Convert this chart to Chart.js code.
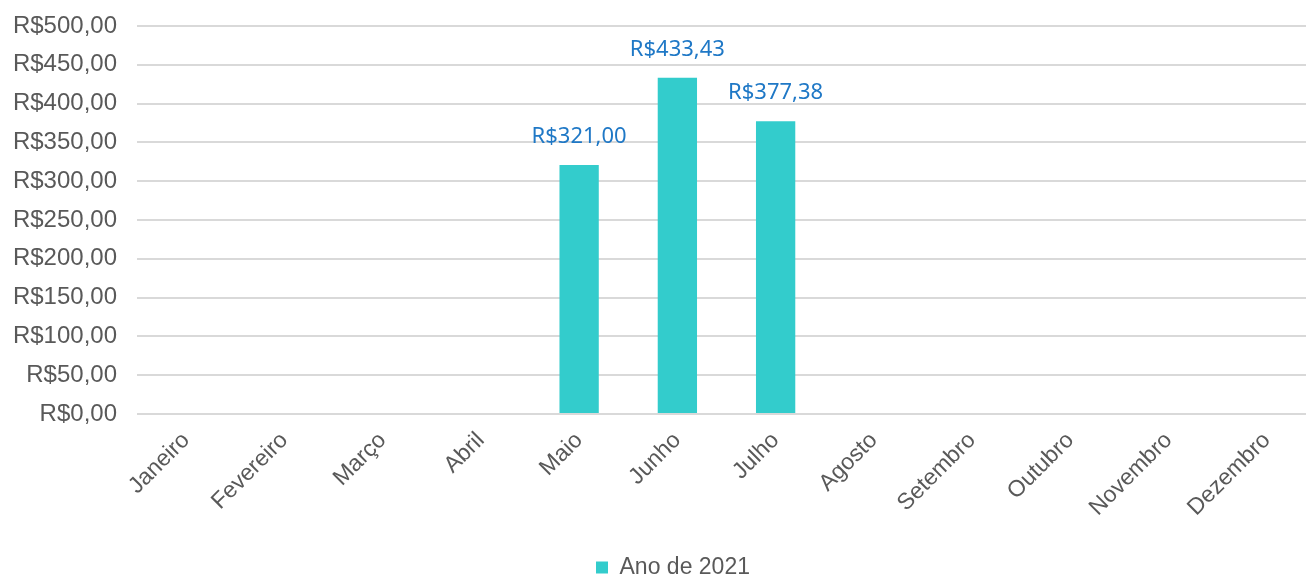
<!DOCTYPE html>
<html>
<head>
<meta charset="utf-8">
<script src="https://cdn.jsdelivr.net/npm/chart.js@4/dist/chart.umd.min.js"></script>
<style>
  html, body { margin: 0; padding: 0; background: #fff; overflow: hidden; }
  #wrap { width: 1316px; height: 577px; }
</style>
</head>
<body>
<div id="wrap"><canvas id="myChart" width="1316" height="577"></canvas></div>
<script>
var meses = ["Janeiro", "Fevereiro", "Março", "Abril", "Maio", "Junho", "Julho", "Agosto", "Setembro", "Outubro", "Novembro", "Dezembro"];
var valores2021 = [0, 0, 0, 0, 321.00, 433.43, 377.38, 0, 0, 0, 0, 0];
var serieNome = "Ano de 2021";

function real(v) {
	return "R$" + v.toFixed(2).replace(".", ",");
}

// rótulos de valor acima das barras
var rotulos = {
	id: "rotulos",
	afterDatasetsDraw: function(chart) {
		var ctx = chart.ctx;
		var meta = chart.getDatasetMeta(0);
		ctx.save();
		ctx.font = "22px 'Noto Sans'";
		ctx.fillStyle = "#1F78C6";
		ctx.textAlign = "center";
		ctx.textBaseline = "middle";
		meta.data.forEach(function(bar, i) {
			var v = chart.data.datasets[0].data[i];
			if (!v) return;
			ctx.fillText(real(v), bar.x, bar.y - 28);
		});
		ctx.restore();
	}
};

// empurra a legenda um pouco para baixo e para a direita
var moveLegenda = {
	id: "moveLegenda",
	afterLayout: function(chart) {
		var lg = chart.legend;
		if (!lg) return;
		lg.top += 12; lg.bottom += 12;
		lg.left += 15; lg.right += 15;
	}
};

var ctx = document.getElementById("myChart");

var myChart = new Chart(ctx, {
	type: "bar",
	data: {
		labels: meses,
		datasets: [{
			label: serieNome,
			data: valores2021,
			backgroundColor: "#33CCCC",
			borderWidth: 0,
			categoryPercentage: 1,
			barPercentage: 0.4
		}]
	},
	options: {
		responsive: false,
		animation: false,
		layout: { padding: { top: 26, left: 0, right: 0, bottom: 0 } },
		plugins: {
			legend: {
				position: "bottom",
				labels: {
					font: { family: "'Liberation Sans', Arial", size: 23 },
					color: "#595959",
					boxWidth: 12,
					boxHeight: 12,
					padding: 2
				}
			},
			tooltip: { enabled: false }
		},
		scales: {
			x: {
				grid: { display: false },
				border: { display: false },
				ticks: {
					font: { family: "'Liberation Sans', Arial", size: 23 },
					color: "#595959",
					maxRotation: 45,
					minRotation: 45,
					padding: 5
				},
				afterFit: function(scale) {
					var lh = scale.chart.legend ? scale.chart.legend.height : 28;
					scale.height = 577 - 414 - lh;
					scale.paddingLeft = 0;
					scale.paddingRight = 0;
				}
			},
			y: {
				min: 0,
				max: 500,
				border: { display: false },
				grid: { color: "#D9D9D9", lineWidth: 2, drawTicks: false },
				ticks: {
					stepSize: 50,
					padding: 20,
					font: { family: "'Liberation Sans', Arial", size: 24 },
					color: "#595959",
					callback: function(v) { return real(v); }
				},
				afterFit: function(scale) {
					scale.width = 137;
					scale.paddingTop = 0;
					scale.paddingBottom = 0;
				}
			}
		}
	},
	plugins: [rotulos, moveLegenda]
});
</script>
</body>
</html>
